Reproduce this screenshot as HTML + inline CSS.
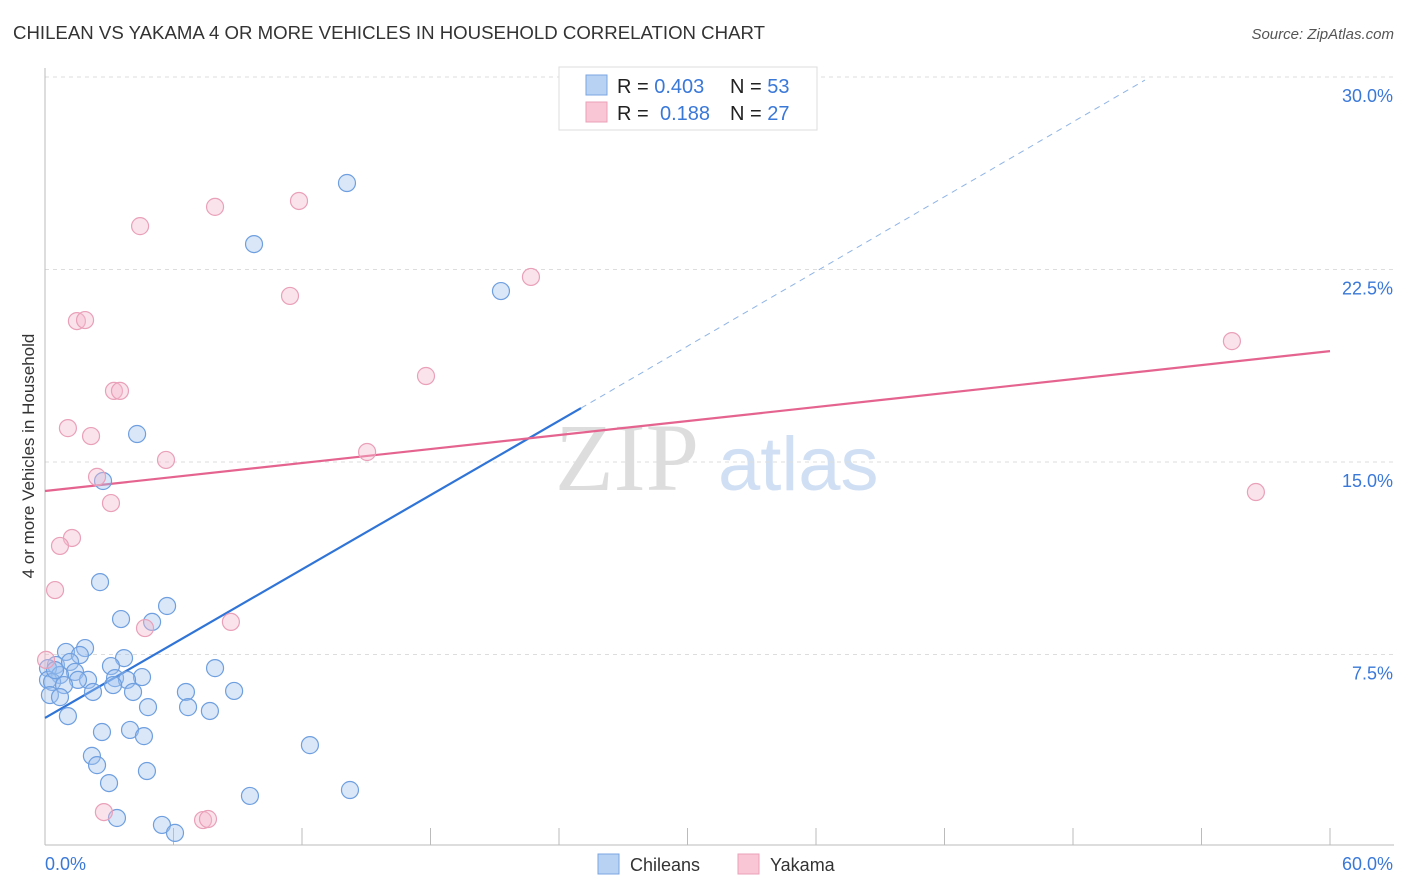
<!DOCTYPE html>
<html><head><meta charset="utf-8"><style>
body{margin:0;background:#fff;font-family:"Liberation Sans",sans-serif}
svg{display:block}
</style></head><body>
<svg id="chart" width="1406" height="892" xmlns="http://www.w3.org/2000/svg">
<text x="13" y="39" font-size="18" fill="#333" textLength="752" lengthAdjust="spacingAndGlyphs">CHILEAN VS YAKAMA 4 OR MORE VEHICLES IN HOUSEHOLD CORRELATION CHART</text>
<text x="1394" y="39" font-size="15" fill="#555" font-style="italic" text-anchor="end">Source: ZipAtlas.com</text>
<g>
<text x="555" y="490" font-size="96" font-family="Liberation Serif,serif" fill="#ddd">ZIP</text>
<text x="718" y="490" font-size="76" fill="#d0dff3">atlas</text>
</g>
<g id="grid"></g>
<g id="axes"></g>
<text transform="translate(34,456) rotate(-90)" font-size="17" fill="#333" text-anchor="middle">4 or more Vehicles in Household</text>
<g id="lines"></g>
<g id="pts"></g>
<g>
<rect x="559" y="67" width="258" height="63" fill="#fff" stroke="#ddd"/>
<rect x="586" y="75" width="21" height="20" fill="#b8d2f4" stroke="#7aa6e0"/>
<rect x="586" y="102" width="21" height="20" fill="#f9c6d6" stroke="#eaa0b8"/>
<text x="617" y="93" font-size="20" fill="#222">R = <tspan fill="#3a78d8">0.403</tspan><tspan x="730">N = </tspan><tspan fill="#3a78d8">53</tspan></text>
<text x="617" y="120" font-size="20" fill="#222">R = <tspan x="660" fill="#3a78d8">0.188</tspan><tspan x="730">N = </tspan><tspan fill="#3a78d8">27</tspan></text>
</g>
<g>
<rect x="598" y="854" width="21" height="20" fill="#b8d2f4" stroke="#7aa6e0"/>
<text x="630" y="871" font-size="18" fill="#333">Chileans</text>
<rect x="738" y="854" width="21" height="20" fill="#f9c6d6" stroke="#eaa0b8"/>
<text x="770" y="871" font-size="18" fill="#333">Yakama</text>
</g>
</svg>
<script>
const xTicks=[0,6,12,18,24,30,36,42,48,54,60];
const yTicks=[7.5,15,22.5,30];
const yTickLabels=["7.5%","15.0%","22.5%","30.0%"];
const chileanX=[14.1,9.76,21.29,4.30,2.71,2.57,5.70,3.55,5.0,1.87,0.98,1.63,3.69,3.08,7.94,0.51,1.17,0.14,1.40,0.70,2.01,1.54,3.27,4.53,3.83,3.18,0.14,0.33,0.89,2.24,4.11,6.58,8.83,0.23,0.70,4.81,6.68,7.70,1.07,2.66,3.97,4.62,12.37,2.19,2.43,4.76,2.99,9.57,14.24,3.36,5.46,6.07,0.47];
const chileanY=[25.87,23.49,21.66,16.09,14.26,10.32,9.39,8.88,8.77,7.75,7.60,7.48,7.36,7.05,6.97,7.09,7.21,6.97,6.82,6.70,6.51,6.51,6.58,6.62,6.51,6.31,6.51,6.43,6.31,6.04,6.04,6.04,6.08,5.92,5.84,5.45,5.45,5.30,5.10,4.48,4.56,4.32,3.97,3.55,3.19,2.96,2.49,1.99,2.22,1.13,0.86,0.55,6.89];
const yakamaX=[4.44,7.94,11.86,22.69,11.44,1.49,1.87,55.42,3.22,3.50,17.79,1.07,2.15,5.65,15.04,2.43,3.08,56.54,1.26,0.70,0.47,8.68,4.67,0.05,2.75,7.38,7.61];
const yakamaY=[24.19,24.94,25.17,22.21,21.47,20.49,20.53,19.71,17.77,17.77,18.35,16.32,16.01,15.08,15.39,14.42,13.40,13.83,12.04,11.73,10.01,8.77,8.53,7.29,1.36,1.05,1.09];
const chileanTrend=[0,5.03,25.03,17.10];
const chileanTrendDash=[25.03,17.10,51.36,29.88];
const yakamaTrend=[0,13.87,60,19.32];

const X=v=>45+v/60*1285, Y=v=>847-v/7.5*192.5;
const NS="http://www.w3.org/2000/svg";
function mk(tag,attrs,parent){const e=document.createElementNS(NS,tag);for(const k in attrs)e.setAttribute(k,attrs[k]);document.getElementById(parent).appendChild(e);return e;}
yTicks.forEach((t,i)=>{
 const g=mk('line',{x1:45,x2:1394,y1:Y(t),y2:Y(t),stroke:'#ddd','stroke-dasharray':'4,4'},'grid');
 
 
 const l=mk('text',{x:1393,y:Y(t)+25,'font-size':18,fill:'#3a78d8','text-anchor':'end'},'grid');
 l.textContent=yTickLabels[i];
 
 
});
const ax=mk('line',{x1:45,x2:1394,y1:845,y2:845,stroke:'#bbb'},'axes');


const ay=mk('line',{x1:45,x2:45,y1:68,y2:845,stroke:'#bbb'},'axes');


xTicks.forEach(t=>{
 const tk=mk('line',{x1:X(t),x2:X(t),y1:828,y2:845,stroke:'#bbb'},'axes');
 
 
});
const xl0=mk('text',{x:45,y:870,'font-size':18,fill:'#3a78d8'},'axes');xl0.textContent=xTicks[0].toFixed(1)+'%';


const xl1=mk('text',{x:1393,y:870,'font-size':18,fill:'#3a78d8','text-anchor':'end'},'axes');xl1.textContent=xTicks[xTicks.length-1].toFixed(1)+'%';



chileanX.forEach((v,i)=>{
 const c=mk('circle',{cx:X(v),cy:Y(chileanY[i]),r:8.5,fill:'rgba(160,195,240,0.4)',stroke:'#6f9fdf','stroke-width':1.2},'pts');
 
 
});
yakamaX.forEach((v,i)=>{
 const c=mk('circle',{cx:X(v),cy:Y(yakamaY[i]),r:8.5,fill:'rgba(246,185,205,0.4)',stroke:'#e9a0b9','stroke-width':1.2},'pts');
 
 
});
const l1=mk('line',{x1:X(chileanTrend[0]),y1:Y(chileanTrend[1]),x2:X(chileanTrend[2]),y2:Y(chileanTrend[3]),stroke:'#2f74d6','stroke-width':2.2},'lines');


const l2=mk('line',{x1:X(chileanTrendDash[0]),y1:Y(chileanTrendDash[1]),x2:X(chileanTrendDash[2]),y2:Y(chileanTrendDash[3]),stroke:'#8fb4e6','stroke-width':1,'stroke-dasharray':'6,5'},'lines');


const l3=mk('line',{x1:X(yakamaTrend[0]),y1:Y(yakamaTrend[1]),x2:X(yakamaTrend[2]),y2:Y(yakamaTrend[3]),stroke:'#e4648f','stroke-width':2.2},'lines');


</script>
</body></html>
